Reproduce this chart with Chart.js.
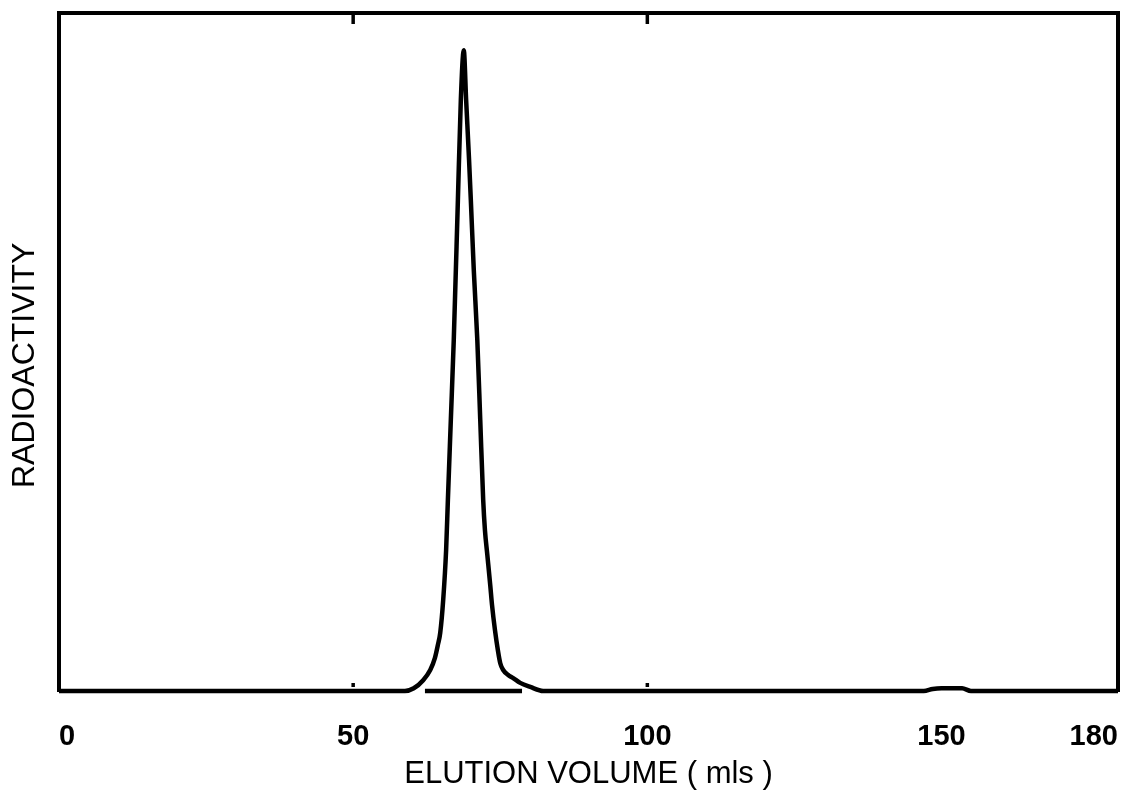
<!DOCTYPE html>
<html>
<head>
<meta charset="utf-8">
<title>Elution profile</title>
<script src="https://cdn.jsdelivr.net/npm/chart.js@4.4.0/dist/chart.umd.min.js"></script>
<style>
    html, body { margin: 0; padding: 0; background: #fff; }
    #wrap { width: 1131px; height: 808px; }
</style>
</head>
<body>
<div id="wrap"><canvas id="chart" width="1131" height="808"></canvas></div>
<script>
// elution volume (mls) and radioactivity (relative, 0-100)
var elutionVolume = [0, 55, 58.8, 60.3, 61.9, 63.1, 63.9, 64.4, 64.8, 65.3, 65.8, 66.1, 66.6, 67.1, 67.8, 68.3,
    68.8,
    69.2, 69.7, 70.0, 70.5, 71.1, 71.6, 72.1, 72.4, 72.8, 73.3, 73.6, 74.1, 74.6, 75.0, 75.5, 76.3, 77.2, 78.4, 80.1, 82.3,
    147.0, 148.5, 150.0, 153.5, 155.0, 180];
var radioactivity = [0, 0, 0, 0.4, 1.6, 3.1, 4.9, 6.8, 8.6, 13.4, 20.8, 28.2, 40.0, 51.8, 72.4, 87.2,
    94.5,
    87.2, 78.3, 72.4, 62.1, 51.8, 40.0, 28.2, 23.7, 20.1, 15.6, 12.7, 9.0, 6.0, 4.1, 3.1, 2.4, 1.9, 1.2, 0.6, 0,
    0, 0.3, 0.4, 0.4, 0, 0];

// pooled fraction bar under the peak
var poolVolume = [62.2, 78.7];
var poolLevel = [0, 0];

var tickValues = [0, 50, 100, 150, 180];
var markedTicks = [50, 100];

function toPoints(xs, ys) {
    return xs.map(function (x, i) { return { x: x, y: ys[i] }; });
}

var font = "'Liberation Sans', Arial, sans-serif";

// short inward tick marks at top and bottom of the frame
var innerTicks = {
    id: 'innerTicks',
    afterDatasetsDraw: function (chart) {
        var ctx = chart.ctx;
        var area = chart.chartArea;
        var x = chart.scales.x;
        ctx.save();
        ctx.strokeStyle = '#000';
        ctx.lineWidth = 3.5;
        markedTicks.forEach(function (v) {
            var px = x.getPixelForValue(v);
            ctx.beginPath();
            ctx.moveTo(px, area.top);
            ctx.lineTo(px, area.top + 11);
            ctx.stroke();
            ctx.beginPath();
            ctx.moveTo(px, area.bottom - 8);
            ctx.lineTo(px, area.bottom - 4);
            ctx.stroke();
        });
        ctx.restore();
    }
};

new Chart(document.getElementById('chart'), {
    type: 'line',
    data: {
        datasets: [{
            data: toPoints(elutionVolume, radioactivity),
            borderColor: '#000',
            borderWidth: 4.5,
            pointRadius: 0,
            cubicInterpolationMode: 'monotone',
            clip: false
        }, {
            data: toPoints(poolVolume, poolLevel),
            borderColor: '#000',
            borderWidth: 4.5,
            pointRadius: 0,
            clip: false
        }]
    },
    options: {
        responsive: false,
        animation: false,
        events: [],
        layout: { padding: 0 },
        plugins: {
            legend: { display: false },
            tooltip: { enabled: false }
        },
        scales: {
            x: {
                type: 'linear',
                position: 'bottom',
                min: 0,
                max: 180,
                afterBuildTicks: function (scale) {
                    scale.ticks = tickValues.map(function (v) { return { value: v }; });
                },
                afterFit: function (scale) {
                    scale.height = 117;
                    scale.paddingLeft = 0;
                    scale.paddingRight = 0;
                },
                grid: { display: false, drawTicks: false },
                border: { display: false },
                ticks: {
                    color: '#000',
                    align: 'inner',
                    padding: 29,
                    maxRotation: 0,
                    autoSkip: false,
                    font: { family: font, size: 29, weight: 'bold' }
                },
                title: {
                    display: true,
                    text: 'ELUTION VOLUME ( mls )',
                    color: '#000',
                    font: { family: font, size: 31 },
                    padding: { top: 0, bottom: 15 }
                }
            },
            x2: {
                type: 'linear',
                position: 'top',
                min: 0,
                max: 180,
                afterFit: function (scale) {
                    scale.height = 13;
                    scale.paddingLeft = 0;
                    scale.paddingRight = 0;
                },
                grid: { display: false, drawTicks: false },
                ticks: { display: false },
                border: { display: true, color: '#000', width: 4 }
            },
            y: {
                position: 'left',
                min: 0,
                max: 100,
                afterFit: function (scale) { scale.width = 59; },
                grid: { display: false, drawTicks: false },
                ticks: { display: false },
                border: { display: true, color: '#000', width: 4 },
                title: {
                    display: true,
                    text: 'RADIOACTIVITY   ',
                    color: '#000',
                    font: { family: font, size: 32 },
                    padding: { top: 6, bottom: 0 }
                }
            },
            y2: {
                position: 'right',
                min: 0,
                max: 100,
                afterFit: function (scale) { scale.width = 13; },
                grid: { display: false, drawTicks: false },
                ticks: { display: false },
                border: { display: true, color: '#000', width: 4 }
            }
        }
    },
    plugins: [innerTicks]
});
</script>
</body>
</html>
